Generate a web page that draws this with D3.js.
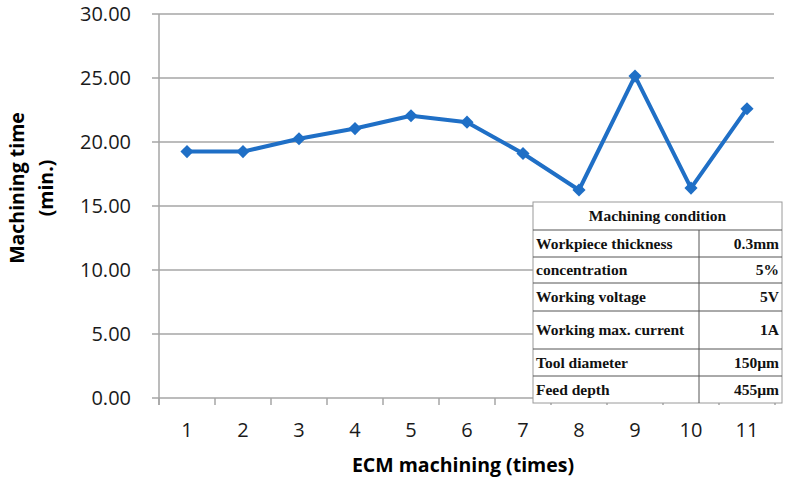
<!DOCTYPE html>
<html>
<head>
  <meta charset="utf-8">
  <title>Machining time</title>
  <script src="https://d3js.org/d3.v7.min.js"></script>
  <style>
    body { margin: 0; background: #fff; }
    .tick-label { font-family: "Open Sans", sans-serif; font-size: 20px; fill: #1a1a1a; }
    .axis-title { font-family: "Open Sans", sans-serif; font-size: 19.5px; font-weight: bold; fill: #000; }
    .cond { font-family: "Liberation Serif", "Times New Roman", serif; font-size: 15.5px; font-weight: bold; fill: #111; }
  </style>
</head>
<body>
  <svg id="chart"></svg>
  <script>
    // data
    var runs = ["1", "2", "3", "4", "5", "6", "7", "8", "9", "10", "11"];
    var times = [19.25, 19.25, 20.25, 21.05, 22.05, 21.55, 19.1, 16.25, 25.15, 16.4, 22.6];
    var yTicks = [0, 5, 10, 15, 20, 25, 30];

    // machining condition table
    var condNames = ["Workpiece thickness", "concentration", "Working voltage", "Working max. current", "Tool diameter", "Feed depth"];
    var condValues = ["0.3mm", "5%", "5V", "1A", "150\u00b5m", "455\u00b5m"];

    var W = 789, H = 483;
    var margin = {top: 14, right: 14, bottom: 85, left: 159};
    var width = 616;
    var height = 384;

    var svg = d3.select("#chart")
                .attr("width", W)
                .attr("height", H);

    var g = svg.append("g")
               .attr("transform", "translate(" + margin.left + "," + margin.top + ")");

    var x = d3.scaleBand().domain(runs).range([0, width]).padding(0);
    var y = d3.scaleLinear().domain([0, 30]).range([height, 0]);

    // horizontal gridlines (+ little ticks on the left)
    g.selectAll(".grid")
     .data(yTicks)
     .enter()
     .append("line")
     .attr("x1", -7)
     .attr("x2", width - 1)
     .attr("y1", d => y(d))
     .attr("y2", d => y(d))
     .attr("stroke", "#a6a6a6")
     .attr("stroke-width", 1.5);

    // y tick labels
    g.selectAll(".ylab")
     .data(yTicks)
     .enter()
     .append("text")
     .attr("class", "tick-label")
     .attr("x", -28)
     .attr("y", d => y(d))
     .attr("dy", "0.36em")
     .attr("text-anchor", "end")
     .text(d => d3.format(".2f")(d));

    // y axis line
    g.append("line")
     .attr("x1", 0).attr("x2", 0)
     .attr("y1", 0).attr("y2", height + 7)
     .attr("stroke", "#a6a6a6")
     .attr("stroke-width", 1.5);

    // x ticks at band edges
    var edges = runs.map(d => x(d) + x.bandwidth()).concat([0]);
    g.selectAll(".xtick")
     .data(edges)
     .enter()
     .append("line")
     .attr("x1", d => d).attr("x2", d => d)
     .attr("y1", height).attr("y2", height + 7)
     .attr("stroke", "#a6a6a6")
     .attr("stroke-width", 1.5);

    // x tick labels
    g.selectAll(".xlab")
     .data(runs)
     .enter()
     .append("text")
     .attr("class", "tick-label")
     .attr("x", d => x(d) + x.bandwidth() / 2)
     .attr("y", height + 39)
     .attr("text-anchor", "middle")
     .text(d => d);

    // the line
    var line = d3.line()
                 .x((d, i) => x(runs[i]) + x.bandwidth() / 2)
                 .y(d => y(d));

    g.append("path")
     .datum(times)
     .attr("fill", "none")
     .attr("stroke", "#1f6fc6")
     .attr("stroke-width", 4)
     .attr("stroke-linejoin", "round")
     .attr("d", line);

    g.selectAll(".pt")
     .data(times)
     .enter()
     .append("path")
     .attr("d", d3.symbol().type(d3.symbolDiamond2).size(110))
     .attr("transform", (d, i) => "translate(" + (x(runs[i]) + x.bandwidth() / 2) + "," + y(d) + ")")
     .attr("fill", "#1f6fc6");

    // axis titles
    svg.append("text")
       .attr("class", "axis-title")
       .attr("x", 463)
       .attr("y", 472)
       .attr("text-anchor", "middle")
       .text("ECM machining (times)");

    var yt = svg.append("text")
                .attr("class", "axis-title")
                .attr("transform", "translate(17,188) rotate(-90)")
                .attr("text-anchor", "middle");
    yt.append("tspan").attr("x", 0).attr("dy", "0.35em").text("Machining time");
    yt.append("tspan").attr("x", 0).attr("dy", "1.5em").text("(min.)");

    // condition table
    var tx = 533, ty = 202, tw = 249, split = 699;
    var rowEdges = [202, 230, 257, 283, 311, 349, 376, 403];
    var tbl = svg.append("g");

    tbl.append("rect")
       .attr("x", tx).attr("y", ty)
       .attr("width", tw).attr("height", rowEdges[rowEdges.length - 1] - ty)
       .attr("fill", "#fff")
       .attr("stroke", "#9a9a9a")
       .attr("stroke-width", 1);

    tbl.selectAll(".rowline")
       .data(rowEdges.slice(1, -1))
       .enter()
       .append("line")
       .attr("x1", tx).attr("x2", tx + tw)
       .attr("y1", d => d).attr("y2", d => d)
       .attr("stroke", "#555")
       .attr("stroke-width", 1);

    tbl.append("line")
       .attr("x1", split).attr("x2", split)
       .attr("y1", rowEdges[1]).attr("y2", rowEdges[rowEdges.length - 1])
       .attr("stroke", "#555")
       .attr("stroke-width", 1);

    tbl.append("text")
       .attr("class", "cond")
       .attr("x", tx + tw / 2)
       .attr("y", (rowEdges[0] + rowEdges[1]) / 2)
       .attr("dy", "0.35em")
       .attr("text-anchor", "middle")
       .text("Machining condition");

    tbl.selectAll(".cname")
       .data(condNames)
       .enter()
       .append("text")
       .attr("class", "cond")
       .attr("x", tx + 3)
       .attr("y", (d, i) => (rowEdges[i + 1] + rowEdges[i + 2]) / 2)
       .attr("dy", "0.35em")
       .text(d => d);

    tbl.selectAll(".cval")
       .data(condValues)
       .enter()
       .append("text")
       .attr("class", "cond")
       .attr("x", tx + tw - 3)
       .attr("y", (d, i) => (rowEdges[i + 1] + rowEdges[i + 2]) / 2)
       .attr("dy", "0.35em")
       .attr("text-anchor", "end")
       .text(d => d);
  </script>
</body>
</html>
